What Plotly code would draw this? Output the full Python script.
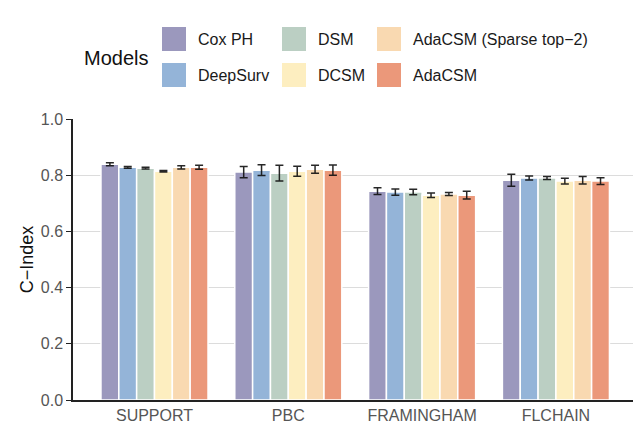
import plotly.graph_objects as go

# Benchmark datasets and survival models
datasets = ["SUPPORT", "PBC", "FRAMINGHAM", "FLCHAIN"]
models = ["Cox PH", "DeepSurv", "DSM", "DCSM", "AdaCSM (Sparse top\u22122)", "AdaCSM"]

# Mean C-Index per model (one value per dataset)
cox_ph = [0.839, 0.811, 0.743, 0.782]
deepsurv = [0.828, 0.818, 0.740, 0.790]
dsm = [0.825, 0.807, 0.740, 0.790]
dcsm = [0.814, 0.814, 0.729, 0.779]
adacsm_sparse = [0.828, 0.821, 0.733, 0.782]
adacsm = [0.828, 0.818, 0.729, 0.779]

# Standard deviation of the C-Index
cox_ph_sd = [0.005, 0.020, 0.012, 0.021]
deepsurv_sd = [0.003, 0.019, 0.011, 0.007]
dsm_sd = [0.003, 0.028, 0.010, 0.005]
dcsm_sd = [0.003, 0.018, 0.008, 0.010]
adacsm_sparse_sd = [0.006, 0.014, 0.005, 0.013]
adacsm_sd = [0.007, 0.018, 0.014, 0.012]

y_ticks = [0.0, 0.2, 0.4, 0.6, 0.8, 1.0]

means = [cox_ph, deepsurv, dsm, dcsm, adacsm_sparse, adacsm]
sds = [cox_ph_sd, deepsurv_sd, dsm_sd, dcsm_sd, adacsm_sparse_sd, adacsm_sd]
colors = ["#9b98bd", "#94b4d8", "#bbcfc3", "#fdeec0", "#f9d9b1", "#eb987a"]

fig = go.Figure()
for name, m, s, c in zip(models, means, sds, colors):
    fig.add_trace(go.Bar(
        x=datasets, y=m, name=name,
        marker=dict(color=c, line=dict(color="white", width=1.5)),
        error_y=dict(type="data", array=s, visible=True,
                     color="rgba(15,15,15,0.9)", thickness=1.5, width=4),
        showlegend=False,
    ))

# Plot area in pixels (for placing the legend block above it)
L, R, T, B = 73, 633, 119, 400
W, H = R - L, B - T


def px_x(p):
    return (p - L) / W


def px_y(p):
    return (B - p) / H


shapes = []
annotations = []
# Legend laid out column-major, 2 rows x 3 columns
col_x = [162, 282, 377]
row_y = [27, 63]
for i, (name, c) in enumerate(zip(models, colors)):
    col, row = i // 2, i % 2
    x0, y0 = col_x[col], row_y[row]
    shapes.append(dict(type="rect", xref="paper", yref="paper",
                       x0=px_x(x0), x1=px_x(x0 + 24),
                       y0=px_y(y0 + 24), y1=px_y(y0),
                       fillcolor=c, line=dict(width=0)))
    annotations.append(dict(xref="paper", yref="paper",
                            x=px_x(x0 + 34), y=px_y(y0 + 12),
                            xanchor="left", yanchor="middle",
                            text=name, showarrow=False,
                            font=dict(size=16, color="#1a1a1a")))
annotations.append(dict(xref="paper", yref="paper",
                        x=px_x(82), y=px_y(58),
                        xanchor="left", yanchor="middle",
                        text="Models", showarrow=False,
                        font=dict(size=20, color="#111111")))

fig.update_layout(
    width=633, height=427,
    margin=dict(l=L, r=633 - R, t=T, b=427 - B, pad=0),
    paper_bgcolor="white", plot_bgcolor="white",
    font=dict(family="Liberation Sans, Arial, sans-serif"),
    barmode="group", bargap=0.2, bargroupgap=0,
    shapes=shapes, annotations=annotations,
    showlegend=False,
)
fig.update_xaxes(
    range=[-0.609, 3.576], showgrid=False,
    showline=True, linecolor="#222222", linewidth=1.5,
    ticks="", tickfont=dict(size=16, color="#555555"),
)
fig.update_yaxes(
    range=[0, 1.0], tickvals=y_ticks, ticktext=[f"{v:.1f}" for v in y_ticks],
    showgrid=True, gridcolor="#dcdcdc", gridwidth=1.2,
    showline=True, linecolor="#222222", linewidth=1.5,
    ticks="outside", ticklen=5, tickcolor="#222222",
    tickfont=dict(size=16, color="#555555"),
    title=dict(text="C\u2212Index", font=dict(size=18, color="#111111"), standoff=2),
    zeroline=False,
)

fig.write_html("out.html")
